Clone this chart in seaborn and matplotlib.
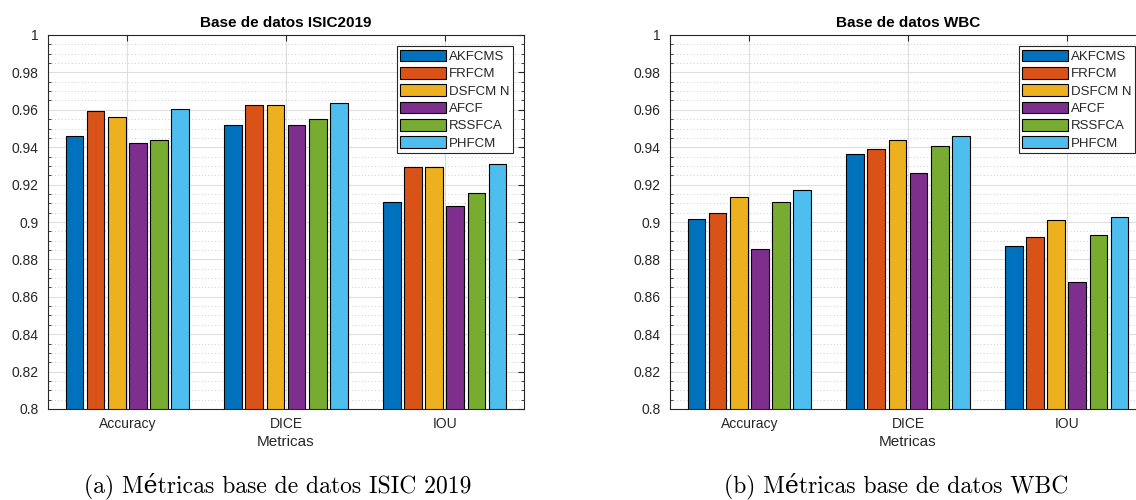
import numpy as np
import pandas as pd
import matplotlib
matplotlib.use("Agg")
import matplotlib.pyplot as plt
import seaborn as sns
from matplotlib.ticker import MultipleLocator, FuncFormatter
from matplotlib.patches import Patch

# ---------------- data ----------------
metrics = ["Accuracy", "DICE", "IOU"]
methods = ["AKFCMS", "FRFCM", "DSFCM N", "AFCF", "RSSFCA", "PHFCM"]
colors = ["#0072BD", "#D95319", "#EDB120", "#7E2F8E", "#77AC30", "#4DBEEE"]

isic_accuracy = [0.9462, 0.9592, 0.9562, 0.9423, 0.9438, 0.9602]
isic_dice = [0.9519, 0.9628, 0.9628, 0.9517, 0.9553, 0.9636]
isic_iou = [0.9105, 0.9295, 0.9295, 0.9088, 0.9157, 0.9312]

wbc_accuracy = [0.9014, 0.9050, 0.9135, 0.8855, 0.9108, 0.9169]
wbc_dice = [0.9366, 0.9389, 0.9440, 0.9262, 0.9406, 0.9458]
wbc_iou = [0.8870, 0.8918, 0.9009, 0.8677, 0.8930, 0.9029]

titles = ["Base de datos ISIC2019", "Base de datos WBC"]
captions = ["(a) Métricas base de datos ISIC 2019", "(b) Métricas base de datos WBC"]
xlabel = "Metricas"


def long_df(acc, dice, iou):
    rows = []
    for metric, vals in zip(metrics, [acc, dice, iou]):
        for m, v in zip(methods, vals):
            rows.append({"Metrica": metric, "Metodo": m, "Valor": v})
    return pd.DataFrame(rows)


datasets = [long_df(isic_accuracy, isic_dice, isic_iou),
            long_df(wbc_accuracy, wbc_dice, wbc_iou)]

# ---------------- style ----------------
sns.set_theme(style="white")
plt.rcParams["font.family"] = ["Liberation Sans", "DejaVu Sans"]
dark = "#262626"

W, H = 1136, 500
fig = plt.figure(figsize=(W / 100, H / 100), dpi=100)
ax_lefts = [48, 670]
ax_w, ax_top, ax_bot = 476, 35, 409

for i, df in enumerate(datasets):
    ax = fig.add_axes([ax_lefts[i] / W, 1 - ax_bot / H, ax_w / W, (ax_bot - ax_top) / H])
    sns.barplot(data=df, x="Metrica", y="Valor", hue="Metodo", order=metrics,
                hue_order=methods, palette=colors, width=0.8, gap=0.17,
                edgecolor="black", linewidth=0.8, errorbar=None, legend=False,
                saturation=1, ax=ax)
    ax.set_ylim(0.8, 1.0)
    ax.set_xlim(-0.5, 2.5)
    ax.yaxis.set_major_locator(MultipleLocator(0.02))
    ax.yaxis.set_minor_locator(MultipleLocator(0.005))
    ax.yaxis.set_major_formatter(FuncFormatter(lambda v, p: f"{round(v, 4):g}"))
    ax.set_axisbelow(True)
    ax.yaxis.grid(True, which="major", color="#dedede", lw=0.8, ls="-")
    ax.yaxis.grid(True, which="minor", color="#bdbdbd", lw=0.6, ls=(0, (1, 3)))
    ax.xaxis.grid(True, which="major", color="#dedede", lw=0.8, ls="-")
    ax.tick_params(axis="both", which="major", direction="in", length=4,
                   width=0.8, color=dark, top=True, right=True,
                   labelsize=10, labelcolor=dark)
    ax.tick_params(axis="y", which="major", pad=7)
    ax.tick_params(axis="x", which="major", pad=6)
    ax.tick_params(axis="y", which="minor", direction="in", length=2,
                   width=0.6, color=dark, left=True, right=True)
    for sp in ax.spines.values():
        sp.set_color(dark)
        sp.set_linewidth(0.8)
        sp.set_visible(True)
    ax.set_ylabel("")
    ax.set_xlabel(xlabel, fontsize=11, color=dark, labelpad=3)
    ax.set_title(titles[i], fontsize=11, fontweight="bold", color="black", pad=6)

    handles = [Patch(facecolor=c, edgecolor="black", lw=0.8) for c in colors]
    leg = ax.legend(handles, methods, loc="upper right", fontsize=9.5,
                    frameon=True, fancybox=False, framealpha=1,
                    edgecolor=dark, handlelength=3.5, handleheight=1.0,
                    labelspacing=0.3, handletextpad=0.2, borderpad=0.25,
                    borderaxespad=0.85)
    leg.get_frame().set_linewidth(0.8)

cap_x = [278, 896]
for cx, txt in zip(cap_x, captions):
    fig.text(cx / W, 1 - 486 / H, txt, ha="center", va="center", fontsize=17,
             family=["cmr10", "DejaVu Serif"], color="black")

fig.savefig("out.png", dpi=100)
